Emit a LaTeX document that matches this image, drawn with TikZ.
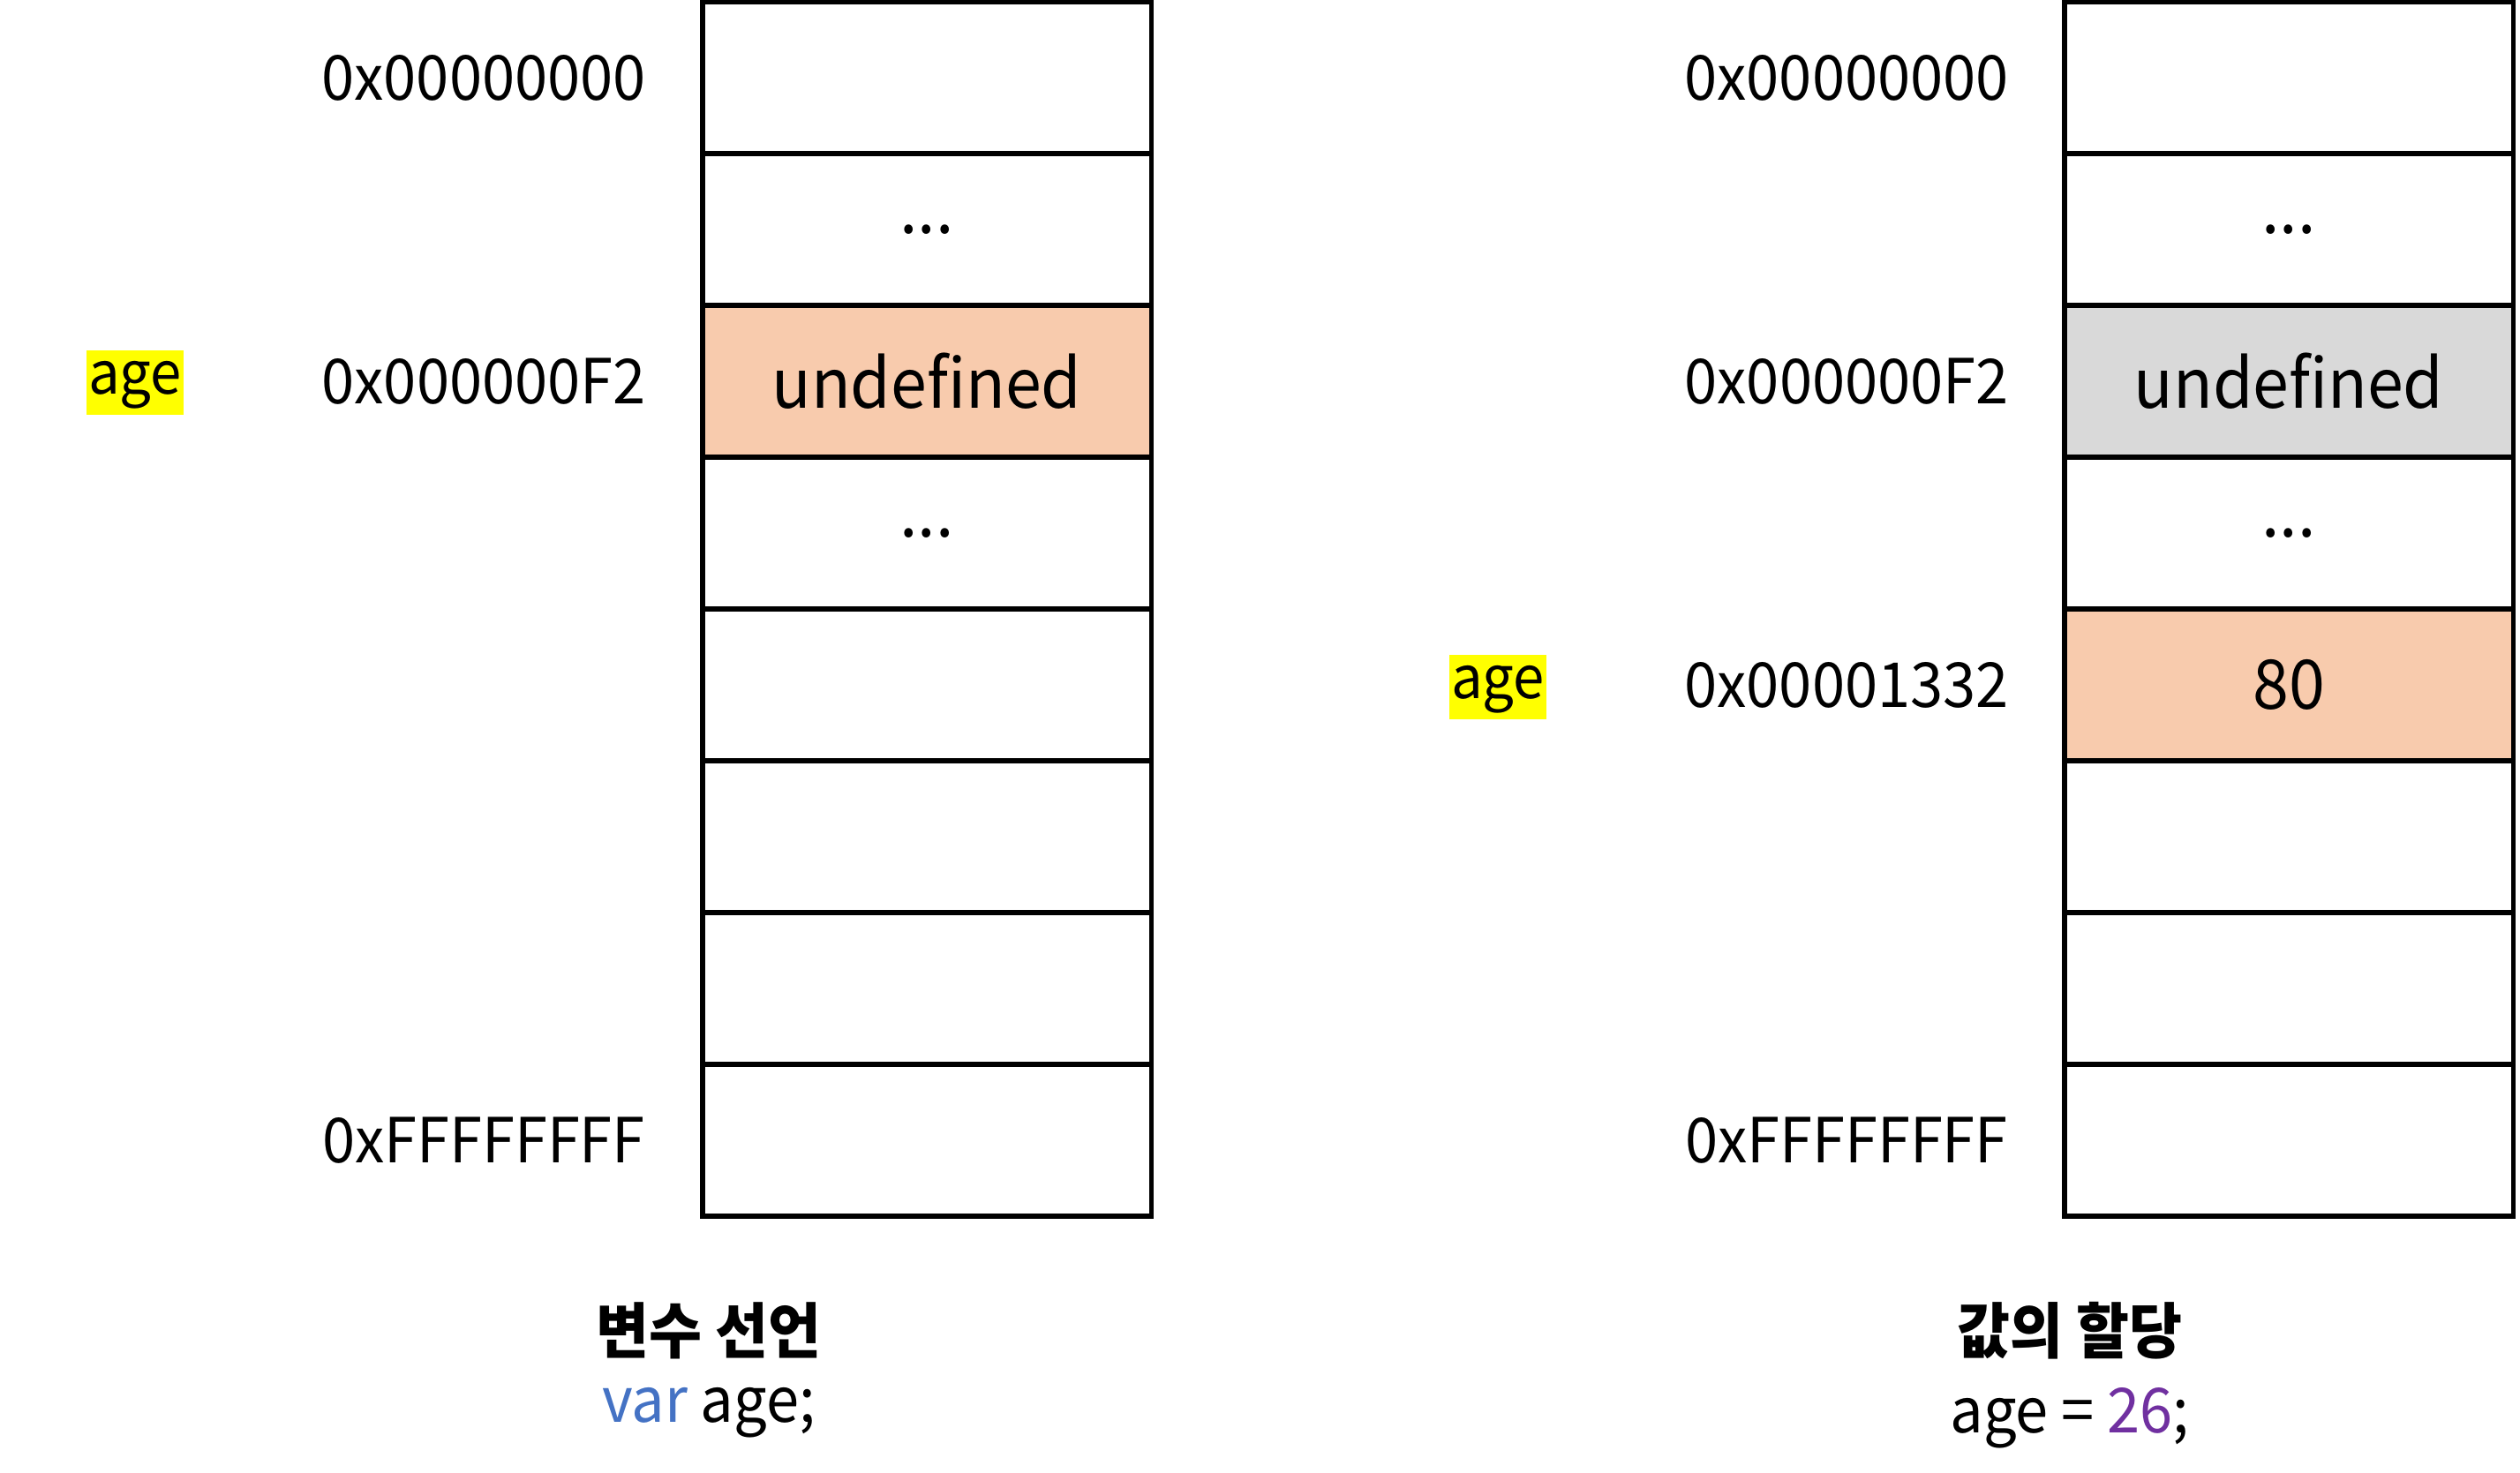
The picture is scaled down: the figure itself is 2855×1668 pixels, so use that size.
\documentclass[tikz,border=0pt]{standalone}
\usepackage{fontspec}
\usepackage{tikz}
\usepackage{xcolor}
\setmainfont[FakeStretch=0.95]{Noto Sans CJK KR}
\usetikzlibrary{positioning}
\definecolor{Cell_Peach}{HTML}{F8CBAD}
\definecolor{Cell_Gray}{HTML}{D9D9D9}
\definecolor{Var_Blue}{HTML}{4472C4}
\definecolor{Num_Purple}{HTML}{7030A0}
\definecolor{Mark_Yellow}{HTML}{FFFF00}
\newcommand{\skipdots}{...}

\begin{document}
\begin{tikzpicture}[x=0.01cm, y=-0.01cm,
    cell/.style={draw, line width=1.5pt, minimum width=5.08cm, minimum height=1.72cm,
        inner sep=0pt, font=\fontsize{22}{26}\selectfont},
    addr/.style={font=\fontsize{20}{24}\selectfont},
    varmark/.style={fill=Mark_Yellow, inner xsep=0.5pt, inner ysep=0pt, text height=0.9em,
        text depth=0.16em, minimum height=0.73cm, font=\fontsize{19}{23}\selectfont},
    title/.style={font=\fontsize{19.5}{23}\selectfont\bfseries},
    code/.style={font=\fontsize{20}{24}\selectfont}]
    \useasboundingbox (0,0) rectangle (2855,1668);
    \def\rowh{172}
    % memory before assignment
    \foreach \i/\txt/\bg in {0/{}/white, 1/\skipdots/white, 2/undefined/Cell_Peach, 3/\skipdots/white,
        4/{}/white, 5/{}/white, 6/{}/white, 7/{}/white}
        \node[cell, fill=\bg] (memL\i) at (1050, 88+\rowh*\i) {\txt};
    % memory after assignment
    \foreach \i/\txt/\bg in {0/{}/white, 1/\skipdots/white, 2/undefined/Cell_Gray, 3/\skipdots/white,
        4/80/Cell_Peach, 5/{}/white, 6/{}/white, 7/{}/white}
        \node[cell, fill=\bg] (memR\i) at (2593, 88+\rowh*\i) {\txt};
    \node[addr] (addrL0) at (548, 88) {0x00000000};
    \node[addr] (addrL2) at (548, 432) {0x000000F2};
    \node[addr] (addrL7) at (548, 1292) {0xFFFFFFFF};
    \node[addr] (addrR0) at (2092, 88) {0x00000000};
    \node[addr] (addrR2) at (2092, 432) {0x000000F2};
    \node[addr] (addrR4) at (2092, 776) {0x00001332};
    \node[addr] (addrR7) at (2092, 1292) {0xFFFFFFFF};
    \node[varmark] (ageL) at (153, 433) {age};
    \node[varmark] (ageR) at (1697, 778) {age};
    \node[title] (titleL) at (803, 1508) {변수 선언};
    \node[code, below=2pt of titleL] (codeL) {\textcolor{Var_Blue}{var} age;};
    \node[title] (titleR) at (2345, 1508) {값의 할당};
    \node[code, below=2pt of titleR] (codeR) {age = \textcolor{Num_Purple}{26};};
\end{tikzpicture}
\end{document}
